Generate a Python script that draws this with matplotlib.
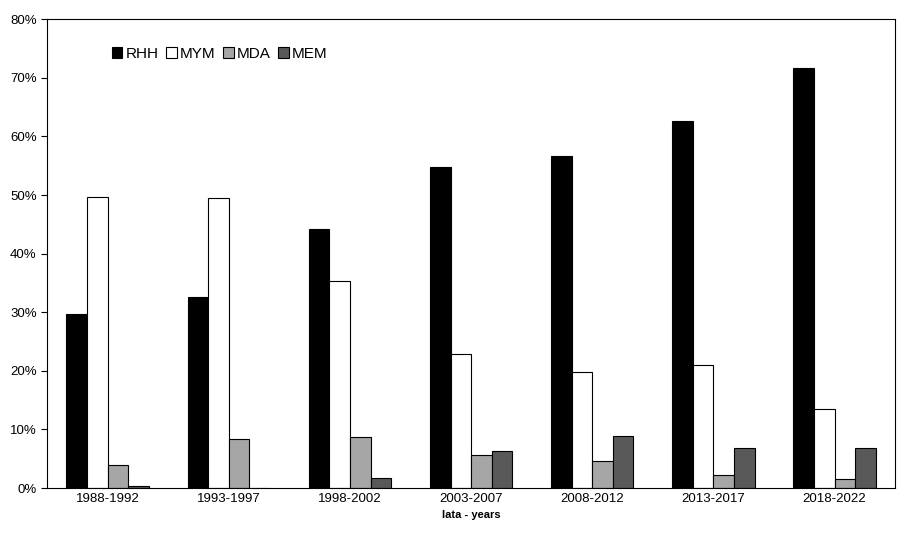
import numpy as np
import matplotlib.pyplot as plt
from matplotlib.ticker import PercentFormatter

plt.rcParams['font.family'] = ['Liberation Sans', 'DejaVu Sans']

periods = ['1988-1992', '1993-1997', '1998-2002', '2003-2007', '2008-2012', '2013-2017', '2018-2022']
rhh = [29.7, 32.6, 44.2, 54.8, 56.7, 62.7, 71.7]
mym = [49.7, 49.5, 35.3, 22.9, 19.8, 21.0, 13.5]
mda = [3.9, 8.3, 8.8, 5.7, 4.6, 2.3, 1.6]
mem = [0.3, 0.0, 1.8, 6.4, 8.9, 6.9, 6.8]

series = [('RHH', rhh, 'black'), ('MYM', mym, 'white'),
          ('MDA', mda, '#a6a6a6'), ('MEM', mem, '#595959')]

fig = plt.figure(figsize=(9.06, 5.34), dpi=100)
ax = fig.add_axes([0.052, 0.086, 0.936, 0.878])

x = np.arange(len(periods))
w = 0.17
for i, (name, vals, col) in enumerate(series):
    ax.bar(x + (i - 1.5) * w, vals, w, color=col, edgecolor='black', linewidth=0.8, label=name)

ax.set_xlim(-0.5, len(periods) - 0.5)
ax.set_ylim(0, 80)
ax.set_yticks(range(0, 81, 10))
ax.yaxis.set_major_formatter(PercentFormatter(decimals=0))
ax.set_xticks(x)
ax.set_xticklabels(periods)
ax.tick_params(labelsize=9.5, direction='out', length=4)
ax.tick_params(axis='x', length=0)
ax.set_xlabel('lata - years', fontsize=8, fontweight='bold', labelpad=4)
for s in ax.spines.values():
    s.set_linewidth(0.8)

ax.legend(loc='upper left', bbox_to_anchor=(0.06, 0.97), ncol=4, frameon=False,
          fontsize=11, handlelength=0.7, handleheight=0.7, handletextpad=0.2,
          columnspacing=0.5)

fig.savefig('out.png', dpi=100)
